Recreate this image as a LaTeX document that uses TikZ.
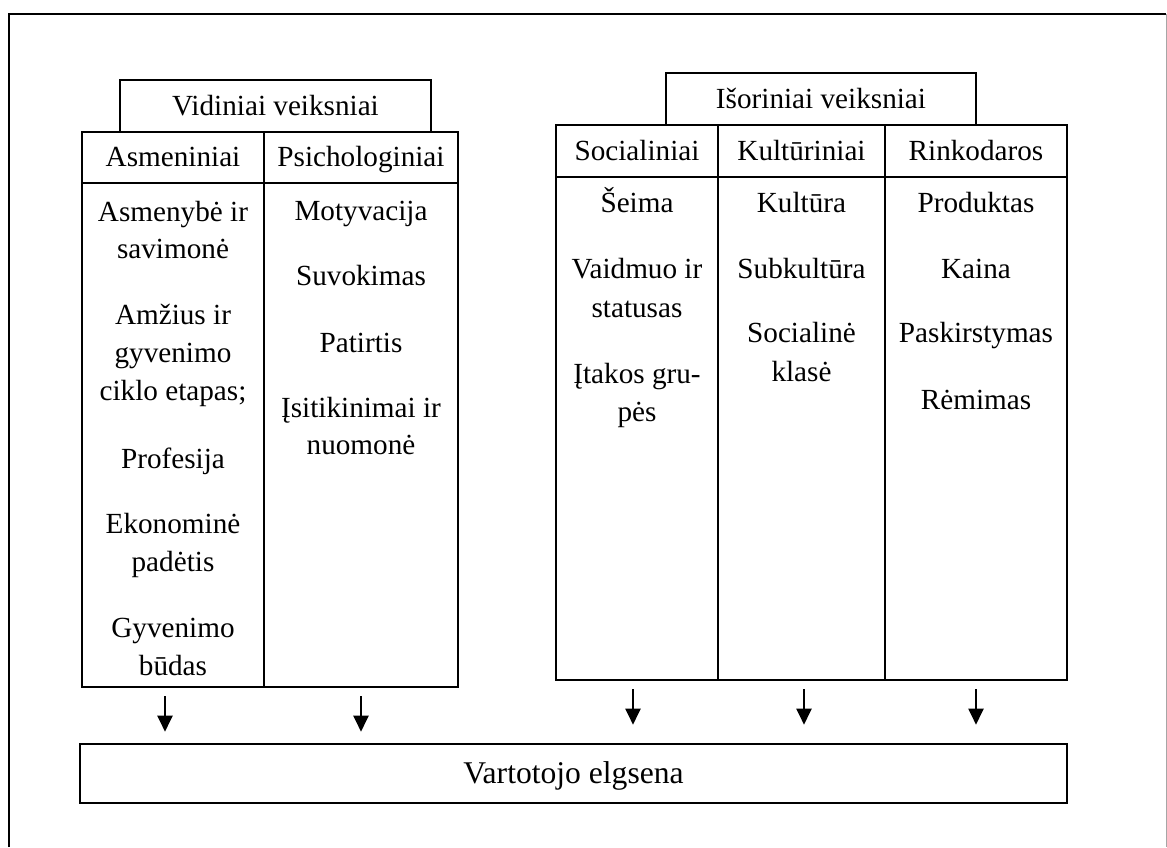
\documentclass[tikz,border=0pt]{standalone}
\usepackage{fontspec}
\setmainfont{Liberation Serif}
\usetikzlibrary{arrows.meta}

\newcommand\cellfont{\fontsize{14.6pt}{18pt}\selectfont}
\newcommand\outfont{\fontsize{15.8pt}{19pt}\selectfont}

\tikzset{
  cell/.style 2 args={draw, line width=1pt, rectangle, inner sep=0pt,
    minimum width=#1, minimum height=#2,
    text height=9.25pt, text depth=0pt, font=\cellfont},
  item/.style={inner sep=0pt, anchor=base, font=\cellfont},
  arr/.style={line width=1pt, -{Triangle[length=8pt,width=7.5pt]},
    shorten <=4pt},
}

\begin{document}
\begin{tikzpicture}[x=0.5pt, y=-0.5pt]
\useasboundingbox (0,0) rectangle (1167,847);

% page frame
\draw[line width=1.3pt] (9,847) -- (9,14) -- (1166,14);
\draw[line width=0.4pt, black!35] (1166,14) -- (1166,847);

% internal factors
\node[cell={155.5pt}{26pt}] (vid) at (275.5,106) {Vidiniai veiksniai};
\node[cell={91pt}{25.5pt}] (asm) at (173,157.5) {Asmeniniai};
\node[cell={97pt}{25.5pt}] (psy) at (361,157.5) {Psichologiniai};
\node[cell={91pt}{252pt}] (asmB) at (173,435) {};
\node[cell={97pt}{252pt}] (psyB) at (361,435) {};

% external factors
\node[cell={155pt}{25.75pt}] (isor) at (821,98.75) {Išoriniai veiksniai};
\node[cell={81pt}{26.25pt}] (soc) at (637,150.75) {Socialiniai};
\node[cell={83.5pt}{26.25pt}] (kul) at (801.5,150.75) {Kultūriniai};
\node[cell={91pt}{26.25pt}] (rin) at (976,150.75) {Rinkodaros};
\node[cell={81pt}{251.5pt}] (socB) at (637,428.5) {};
\node[cell={83.5pt}{251.5pt}] (kulB) at (801.5,428.5) {};
\node[cell={91pt}{251.5pt}] (rinB) at (976,428.5) {};

% consumer behaviour
\node[cell={493.5pt}{29.5pt}, line width=1.3pt, text height=9.5pt, font=\outfont]
  (out) at (573.5,773.5) {Vartotojo elgsena};

% personal factors
\node[item] (a1) at (173,221) {Asmenybė ir};
\node[item] (a2) at (173,258) {savimonė};
\node[item] (a3) at (173,324) {Amžius ir};
\node[item] (a4) at (173,362) {gyvenimo};
\node[item] (a5) at (173,400) {ciklo etapas;};
\node[item] (a6) at (173,468) {Profesija};
\node[item] (a7) at (173,533) {Ekonominė};
\node[item] (a8) at (173,571) {padėtis};
\node[item] (a9) at (173,637) {Gyvenimo};
\node[item] (a10) at (173,675) {būdas};

% psychological factors
\node[item] (p1) at (361,220) {Motyvacija};
\node[item] (p2) at (361,285) {Suvokimas};
\node[item] (p3) at (361,352) {Patirtis};
\node[item] (p4) at (361,417) {Įsitikinimai ir};
\node[item] (p5) at (361,454) {nuomonė};

% social factors
\node[item] (s1) at (637,212) {Šeima};
\node[item] (s2) at (637,278) {Vaidmuo ir};
\node[item] (s3) at (637,317) {statusas};
\node[item] (s4) at (637,383) {Įtakos gru-};
\node[item] (s5) at (637,421) {pės};

% cultural factors
\node[item] (k1) at (801.5,212) {Kultūra};
\node[item] (k2) at (801.5,278) {Subkultūra};
\node[item] (k3) at (801.5,342) {Socialinė};
\node[item] (k4) at (801.5,381) {klasė};

% marketing factors
\node[item] (r1) at (976,212) {Produktas};
\node[item] (r2) at (976,278) {Kaina};
\node[item] (r3) at (976,342) {Paskirstymas};
\node[item] (r4) at (976,409) {Rėmimas};

% influences on behaviour
\draw[arr, shorten >=5.5pt] ([xshift=-4pt]asmB.south) -- ([xshift=-4pt]asmB.south |- out.north);
\draw[arr, shorten >=5.5pt] (psyB.south) -- (psyB.south |- out.north);
\draw[arr, shorten >=9pt] ([xshift=-2pt]socB.south) -- ([xshift=-2pt]socB.south |- out.north);
\draw[arr, shorten >=9pt] ([xshift=1.25pt]kulB.south) -- ([xshift=1.25pt]kulB.south |- out.north);
\draw[arr, shorten >=9pt] (rinB.south) -- (rinB.south |- out.north);
\end{tikzpicture}
\end{document}
